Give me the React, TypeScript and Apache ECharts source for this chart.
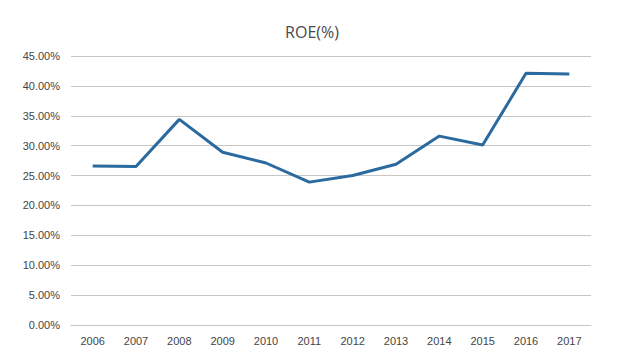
import React, { useEffect, useRef } from "react";
import * as echarts from "echarts";

const years = ["2006", "2007", "2008", "2009", "2010", "2011", "2012", "2013", "2014", "2015", "2016", "2017"];
const roe = [26.6, 26.5, 34.4, 28.9, 27.1, 23.9, 25.0, 26.9, 31.6, 30.1, 42.1, 42.0];
const titleText = "ROE(%)";

export default function App() {
  const ref = useRef<HTMLDivElement>(null);
  useEffect(() => {
    if (!ref.current) return;
    const chart = echarts.init(ref.current, null, { renderer: "svg" });
    chart.setOption({
      animation: false,
      backgroundColor: "#ffffff",
      title: {
        text: titleText,
        left: "center",
        top: 19,
        textStyle: { fontFamily: "Open Sans", fontSize: 16, fontWeight: "normal", color: "#4a4a4a" },
      },
      grid: { left: 71, right: 33, top: 56, bottom: 39, containLabel: false },
      xAxis: {
        type: "category",
        data: years,
        boundaryGap: true,
        axisLine: { lineStyle: { color: "#c6c6c6", width: 1 } },
        axisTick: { show: false },
        axisLabel: { color: "#454545", fontFamily: "Liberation Sans", fontSize: 11, margin: 10 },
      },
      yAxis: {
        type: "value",
        min: 0,
        max: 45,
        interval: 5,
        axisLine: { show: false },
        axisTick: { show: false },
        splitLine: { lineStyle: { color: "#c6c6c6", width: 1 } },
        axisLabel: {
          color: "#454545",
          fontFamily: "Liberation Sans",
          fontSize: 11,
          margin: 11,
          formatter: (v: number) => v.toFixed(2) + "%",
        },
      },
      series: [
        {
          type: "line",
          data: roe,
          symbol: "none",
          lineStyle: { color: "#2b6a9f", width: 3 },
          itemStyle: { color: "#2b6a9f" },
        },
      ],
    });
    return () => chart.dispose();
  }, []);
  return <div ref={ref} style={{ width: 624, height: 364, position: "absolute", left: 0, top: 0 }} />;
}
